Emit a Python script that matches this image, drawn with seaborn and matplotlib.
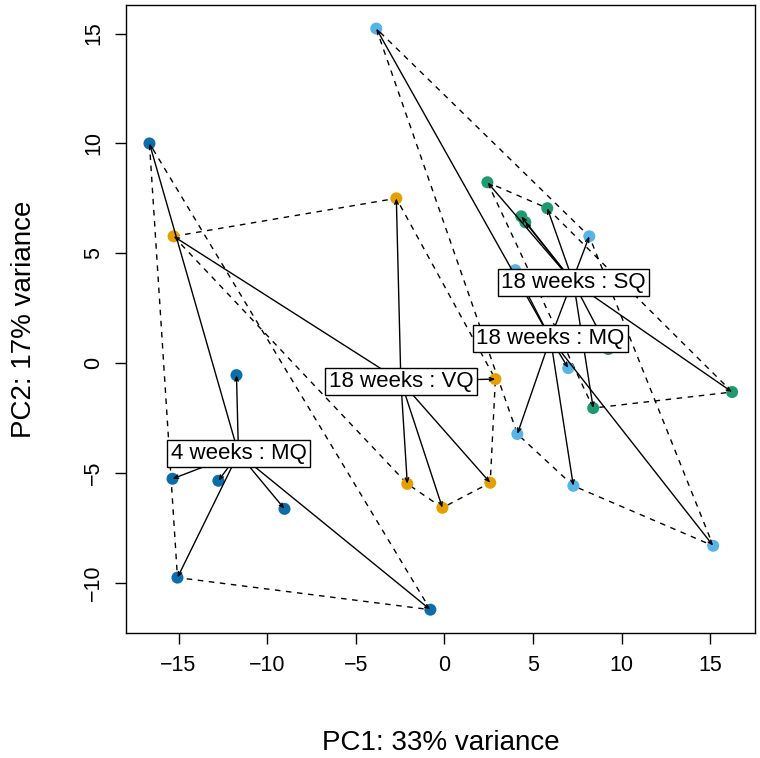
import numpy as np
import pandas as pd
import matplotlib
matplotlib.use('Agg')
import matplotlib.pyplot as plt
import seaborn as sns

sns.set_style('white')
plt.rcParams['font.family'] = ['Liberation Sans', 'DejaVu Sans']
plt.rcParams['text.color'] = 'black'
plt.rcParams['axes.labelcolor'] = 'black'
plt.rcParams['xtick.color'] = 'black'
plt.rcParams['ytick.color'] = 'black'

# groups and Okabe-Ito colours
groups = ['4 weeks : MQ', '18 weeks : VQ', '18 weeks : MQ', '18 weeks : SQ']
colors = ['#0A6EAA', '#E69F00', '#56B4E9', '#1E9A70']

# PC scores
mq4_x = [-16.64, -11.73, -15.34, -12.75, -9.02, -15.06, -0.79]
mq4_y = [10.0, -0.55, -5.27, -5.36, -6.64, -9.77, -11.23]
vq18_x = [-15.28, -2.71, 2.88, 2.59, -0.11, -2.09]
vq18_y = [5.77, 7.5, -0.73, -5.45, -6.59, -5.5]
mq18_x = [-3.84, 4.0, 8.18, 6.99, 4.12, 7.28, 15.17]
mq18_y = [15.23, 4.23, 5.77, -0.23, -3.23, -5.59, -8.32]
sq18_x = [2.43, 4.34, 4.57, 5.81, 9.25, 8.4, 16.24]
sq18_y = [8.23, 6.68, 6.41, 7.05, 0.64, -2.05, -1.32]

xs = [mq4_x, vq18_x, mq18_x, sq18_x]
ys = [mq4_y, vq18_y, mq18_y, sq18_y]
df = pd.concat([pd.DataFrame({'PC1': x, 'PC2': y, 'group': g})
                for g, x, y in zip(groups, xs, ys)], ignore_index=True)


def hull(pts):
    # monotone chain convex hull
    pts = sorted(set(pts))
    def cross(o, a, b):
        return (a[0] - o[0]) * (b[1] - o[1]) - (a[1] - o[1]) * (b[0] - o[0])
    lower, upper = [], []
    for p in pts:
        while len(lower) >= 2 and cross(lower[-2], lower[-1], p) <= 0:
            lower.pop()
        lower.append(p)
    for p in reversed(pts):
        while len(upper) >= 2 and cross(upper[-2], upper[-1], p) <= 0:
            upper.pop()
        upper.append(p)
    return lower[:-1] + upper[:-1]


fig = plt.figure(figsize=(7.6, 7.58), dpi=100)
ax = fig.add_axes([0.166, 0.165, 0.828, 0.828])

# dashed hulls
for g in groups:
    sub = df[df.group == g]
    h = hull(list(zip(sub.PC1, sub.PC2)))
    h.append(h[0])
    hx, hy = zip(*h)
    ax.plot(hx, hy, color='black', lw=1, ls=(0, (4, 4)), zorder=1)

sns.scatterplot(data=df, x='PC1', y='PC2', hue='group',
                palette=dict(zip(groups, colors)), s=75, edgecolor='none',
                legend=False, ax=ax, zorder=2)

# spiders from the centroid with labels
for g in groups:
    sub = df[df.group == g]
    cx, cy = sub.PC1.mean(), sub.PC2.mean()
    for px, py in zip(sub.PC1, sub.PC2):
        ax.annotate('', xy=(px, py), xytext=(cx, cy),
                    arrowprops=dict(arrowstyle='->,head_length=0.3,head_width=0.12',
                                    color='black', lw=1, shrinkA=0, shrinkB=0),
                    zorder=3)
for g in groups:
    sub = df[df.group == g]
    ax.text(sub.PC1.mean(), sub.PC2.mean(), g, fontsize=16, ha='center',
            va='center', zorder=5,
            bbox=dict(boxstyle='square,pad=0.15', fc='white', ec='black', lw=1))

xr = df.PC1.max() - df.PC1.min()
yr = df.PC2.max() - df.PC2.min()
ax.set_xlim(df.PC1.min() - 0.04 * xr, df.PC1.max() + 0.04 * xr)
ax.set_ylim(df.PC2.min() - 0.04 * yr, df.PC2.max() + 0.04 * yr)
ax.set_xticks([-15, -10, -5, 0, 5, 10, 15])
ax.set_yticks([-10, -5, 0, 5, 10, 15])
ax.tick_params(direction='out', length=8, width=1, labelsize=15.5, pad=8,
               left=True, bottom=True)
plt.setp(ax.get_yticklabels(), rotation=90, va='center')
for s in ax.spines.values():
    s.set_color('black')
    s.set_linewidth(1)

ax.set_xlabel('PC1: 33% variance', fontsize=20)
ax.set_ylabel('PC2: 17% variance', fontsize=20)
ax.xaxis.set_label_coords(0.5, -0.155)
ax.yaxis.set_label_coords(-0.142, 0.5)

fig.savefig('out.png', dpi=100)
